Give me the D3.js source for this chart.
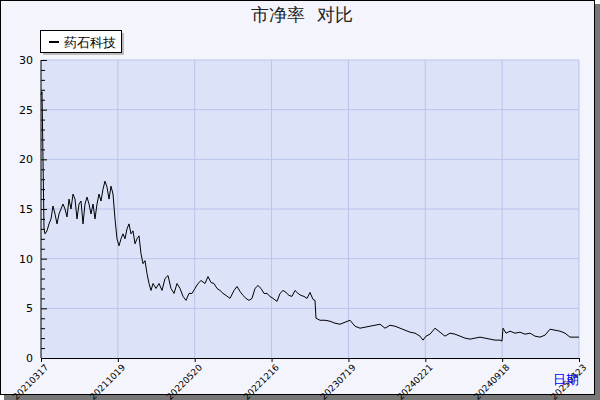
<!DOCTYPE html>
<html>
<head>
<meta charset="utf-8">
<script src="https://cdn.jsdelivr.net/npm/d3@7"></script>
<style>
  body { margin: 0; background: #fff; }
  text { font-family: "DejaVu Sans", sans-serif; }
</style>
</head>
<body>
<div id="chart"></div>
<script>
const seriesName = "药石科技";
const dateLabels = ["20210317", "20211019", "20220520", "20221216", "20230719", "20240221", "20240918", "20250423"];
const yTicks = [0, 5, 10, 15, 20, 25, 30];
// [trading-session index, price-to-book]
const earlyPB = [[0,26.5],[2,26.8],[4,20],[6,13],[8,12.5],[12,12.8],[16,13.5],[20,14],[24,15.3],[28,14.5],[32,13.5],[36,14.5],[40,15],[44,15.5],[48,15],[52,14.2],[56,16],[60,15],[64,16.5],[68,16],[72,14],[76,15.5],[80,15.8],[84,13.5],[88,15.5],[92,16.2],[96,15.5],[100,14.5],[104,15.5],[108,14],[112,15.5],[116,16.5],[120,15.8],[124,17],[128,17.8],[132,17.2],[136,16],[140,17.3],[144,16.5],[148,14],[152,12],[156,11.3],[160,12],[164,12.5],[168,12],[172,13],[176,13.5],[180,12.5],[184,12.8],[188,11.5],[192,12],[196,12.3],[200,10.5],[204,9.5],[208,9.8],[212,8.5],[216,7.5],[220,6.8]];
const middlePB = [[224,7.5],[230,7],[236,7.5],[242,6.8],[248,8],[254,8.3],[260,7],[266,6.5],[272,7.5],[278,7],[284,6.2],[290,5.8],[296,6.5],[302,6.5],[308,7],[314,7.5],[320,7.8],[328,7.5],[334,8.2],[340,7.6],[346,7.5],[352,7],[358,6.8],[364,6.5],[370,6.3],[378,6],[386,6.8],[392,7.2],[398,6.7],[404,6.3],[410,6],[416,5.8],[422,6],[428,7],[434,7.3],[440,7],[446,6.5],[452,6.5],[458,6.2],[464,6],[472,5.7],[478,6.5],[484,6.8],[490,6.6],[496,6.3],[502,6.2],[508,6.8],[514,6.5],[520,6.3],[526,6.2],[532,6],[538,6.6],[544,5.9],[548,5.8],[550,4]];
const latePB = [[558,3.8],[568,3.8],[578,3.7],[588,3.5],[598,3.4],[608,3.6],[618,3.8],[628,3.2],[638,3.0],[648,3.1],[658,3.2],[668,3.3],[678,3.4],[688,3.0],[698,3.3],[708,3.2],[718,3.0],[728,2.8],[738,2.6],[748,2.5],[758,2.2],[764,1.8],[770,2.2],[778,2.4],[788,3.0],[798,2.6],[808,2.2],[818,2.5],[828,2.4],[838,2.2],[848,2.0],[858,1.9],[868,2.0],[878,2.1],[888,2.0],[898,1.9],[908,1.8],[918,1.8],[922,1.7],[924,3.0],[930,2.5],[938,2.7],[948,2.5],[958,2.6],[968,2.4],[978,2.5],[988,2.2],[998,2.1],[1008,2.3],[1018,2.9],[1028,2.8],[1038,2.7],[1048,2.5],[1058,2.1],[1068,2.1],[1076,2.1]];
const data = earlyPB.concat(middlePB, latePB).map(([s, v]) => ({ s, v }));
const lastSession = 1076;

const width = 600, height = 400;
const margin = { top: 60, right: 21, bottom: 42, left: 41 };

const svg = d3.select("#chart").append("svg")
  .attr("width", width)
  .attr("height", height);

// frame with shadow
svg.append("rect").attr("x", 4).attr("y", 4).attr("width", 596).attr("height", 396).attr("fill", "#777");
svg.append("rect").attr("x", 0.5).attr("y", 0.5).attr("width", 594).attr("height", 394)
  .attr("fill", "#f4f5fc").attr("stroke", "#000");

const x = d3.scaleLinear().domain([0, lastSession]).range([margin.left, width - margin.right]);
const y = d3.scaleLinear().domain([0, 30]).range([height - margin.bottom, margin.top]);

svg.append("rect")
  .attr("x", margin.left).attr("y", margin.top)
  .attr("width", width - margin.left - margin.right)
  .attr("height", height - margin.top - margin.bottom)
  .attr("fill", "#dce2f7");

const labelPos = d3.scaleLinear().domain([0, dateLabels.length - 1]).range([0, lastSession]);

// grid
svg.append("g").selectAll("line").data(yTicks.slice(1)).join("line")
  .attr("x1", margin.left).attr("x2", width - margin.right)
  .attr("y1", d => y(d)).attr("y2", d => y(d))
  .attr("stroke", "#b9c4ec");
svg.append("g").selectAll("line").data(dateLabels.slice(1)).join("line")
  .attr("x1", (d, i) => x(labelPos(i + 1))).attr("x2", (d, i) => x(labelPos(i + 1)))
  .attr("y1", margin.top).attr("y2", height - margin.bottom)
  .attr("stroke", "#b9c4ec");

// y axis
const yAxis = svg.append("g")
  .attr("transform", `translate(${margin.left},0)`)
  .call(d3.axisLeft(y).tickValues(d3.range(0, 31, 1)).tickSize(4).tickFormat(d => yTicks.includes(d) ? d : ""));
yAxis.selectAll(".tick line").attr("x2", 4).attr("x1", 0).attr("stroke", "#000");
yAxis.selectAll(".tick").filter(d => d % 5 === 0).select("line").attr("x2", 6);
yAxis.selectAll("text").attr("x", -8).attr("font-size", 11).attr("fill", "#000");
yAxis.select(".domain").attr("d", `M0,${margin.top}V${height - margin.bottom}`).attr("stroke", "#000");

// x axis
const xAxis = svg.append("g")
  .attr("transform", `translate(0,${height - margin.bottom})`)
  .call(d3.axisBottom(x).tickValues(dateLabels.map((d, i) => labelPos(i))).tickSize(4)
    .tickFormat((d, i) => dateLabels[i]));
xAxis.select(".domain").attr("stroke", "#000");
xAxis.selectAll("text")
  .attr("font-size", 9)
  .attr("text-anchor", "end")
  .attr("transform", "rotate(-45)")
  .attr("dx", "-0.2em").attr("dy", "0.6em")
  .attr("fill", "#000");

// series line
svg.append("path")
  .datum(data)
  .attr("fill", "none")
  .attr("stroke", "#000")
  .attr("stroke-width", 1)
  .attr("d", d3.line().x(d => x(d.s)).y(d => y(d.v)));

// title
svg.append("text")
  .attr("x", 302).attr("y", 21)
  .attr("text-anchor", "middle")
  .attr("font-size", 18)
  .attr("font-family", "Noto Sans CJK SC")
  .attr("fill", "#222")
  .style("white-space", "pre")
  .text("市净率  对比");

// legend
svg.append("rect").attr("x", 43).attr("y", 33).attr("width", 81).attr("height", 22).attr("fill", "#bbb");
svg.append("rect").attr("x", 40.5).attr("y", 30.5).attr("width", 81).attr("height", 22)
  .attr("fill", "#fff").attr("stroke", "#000");
svg.append("line").attr("x1", 49).attr("x2", 59).attr("y1", 42).attr("y2", 42)
  .attr("stroke", "#000").attr("stroke-width", 2);
svg.append("text").attr("x", 64).attr("y", 47)
  .attr("font-size", 13).attr("font-family", "Noto Sans CJK SC").attr("fill", "#000")
  .text(seriesName);

// axis name
svg.append("text").attr("x", 579).attr("y", 384)
  .attr("text-anchor", "end")
  .attr("font-size", 13).attr("font-family", "Noto Sans CJK SC").attr("fill", "#0000ff")
  .text("日期");
</script>
</body>
</html>
